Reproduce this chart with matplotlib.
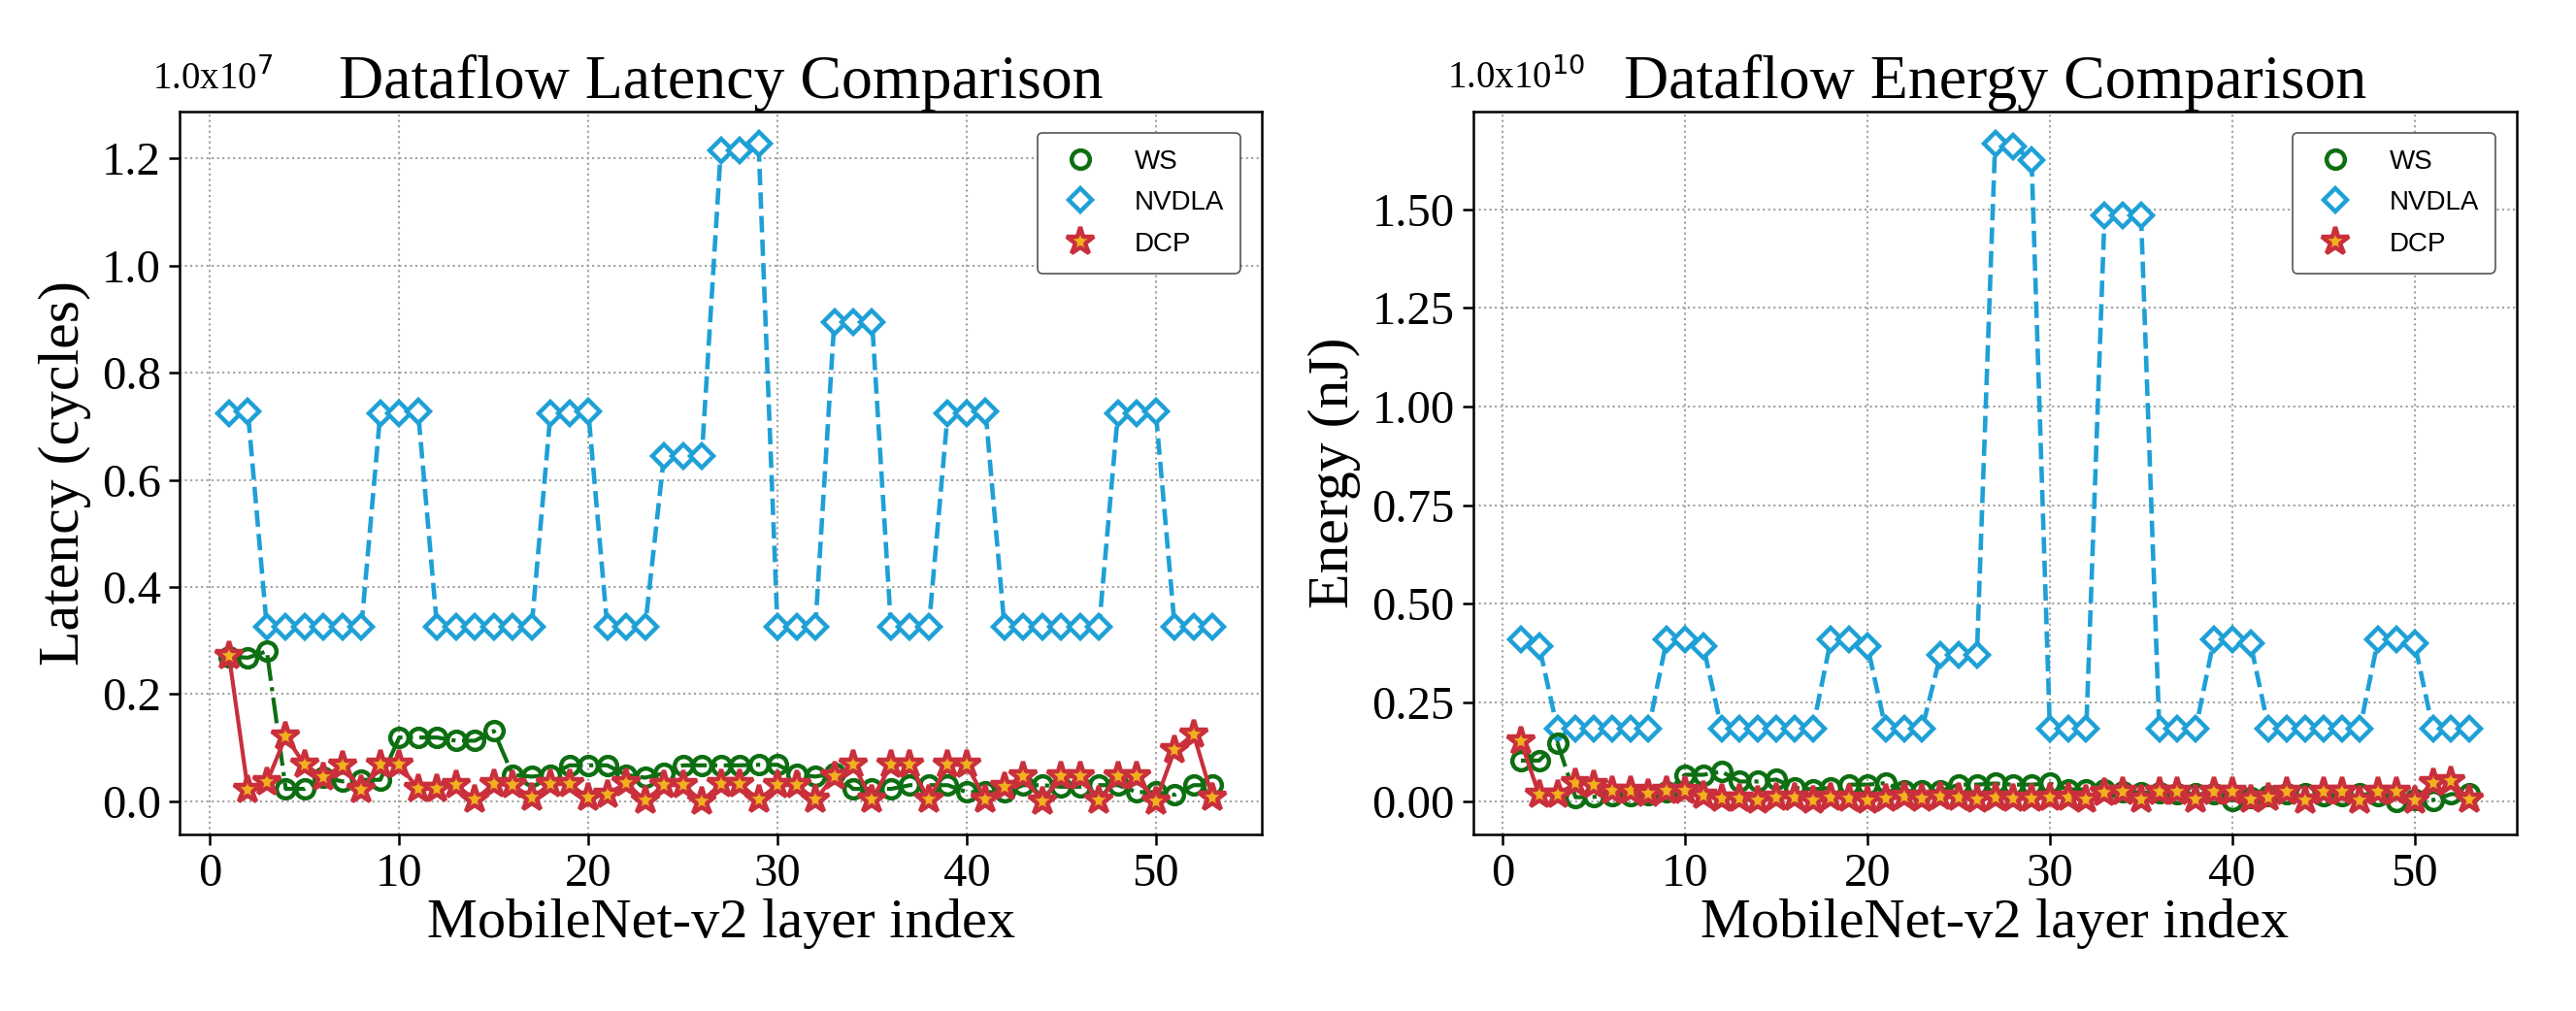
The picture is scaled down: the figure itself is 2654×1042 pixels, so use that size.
import matplotlib
matplotlib.use("Agg")
import matplotlib.pyplot as plt
from matplotlib.lines import Line2D
from matplotlib.ticker import FormatStrFormatter, MultipleLocator
import numpy as np

layers = list(range(1, 54))

# Latency (x1e7 cycles)
lat_ws = [0.270, 0.268, 0.280, 0.023, 0.023, 0.045, 0.037, 0.040, 0.040, 0.119,
          0.119, 0.119, 0.113, 0.113, 0.131, 0.049, 0.046, 0.049, 0.067, 0.067,
          0.067, 0.049, 0.044, 0.052, 0.067, 0.067, 0.067, 0.067, 0.068, 0.068,
          0.050, 0.046, 0.052, 0.023, 0.023, 0.023, 0.030, 0.030, 0.030, 0.017,
          0.017, 0.017, 0.030, 0.030, 0.027, 0.027, 0.030, 0.030, 0.017, 0.017,
          0.012, 0.030, 0.030]
lat_nvdla = [0.725, 0.727, 0.325, 0.325, 0.325, 0.325, 0.325, 0.325, 0.725, 0.725,
             0.727, 0.325, 0.325, 0.325, 0.325, 0.325, 0.325, 0.725, 0.725, 0.727,
             0.325, 0.325, 0.325, 0.645, 0.645, 0.645, 1.215, 1.215, 1.227, 0.325,
             0.325, 0.325, 0.895, 0.895, 0.895, 0.325, 0.325, 0.325, 0.725, 0.725,
             0.727, 0.325, 0.325, 0.325, 0.325, 0.325, 0.325, 0.725, 0.725, 0.727,
             0.325, 0.325, 0.325]
lat_dcp = [0.272, 0.021, 0.035, 0.121, 0.068, 0.045, 0.067, 0.021, 0.068, 0.068,
           0.023, 0.023, 0.030, 0.003, 0.032, 0.030, 0.006, 0.032, 0.032, 0.006,
           0.013, 0.034, 0.001, 0.030, 0.030, 0.000, 0.032, 0.032, 0.003, 0.030,
           0.030, 0.003, 0.046, 0.068, 0.003, 0.068, 0.068, 0.003, 0.068, 0.068,
           0.003, 0.027, 0.046, 0.000, 0.046, 0.046, 0.001, 0.046, 0.046, 0.000,
           0.096, 0.125, 0.006]

# Energy (x1e10 nJ)
en_ws = [0.103, 0.103, 0.148, 0.010, 0.011, 0.015, 0.015, 0.016, 0.025, 0.067,
         0.067, 0.075, 0.050, 0.050, 0.055, 0.034, 0.030, 0.034, 0.042, 0.042,
         0.046, 0.026, 0.026, 0.026, 0.042, 0.042, 0.045, 0.042, 0.042, 0.045,
         0.030, 0.030, 0.028, 0.025, 0.022, 0.022, 0.020, 0.018, 0.018, 0.002,
         0.010, 0.015, 0.018, 0.018, 0.015, 0.015, 0.018, 0.015, 0.000, 0.005,
         0.003, 0.018, 0.018]
en_nvdla = [0.410, 0.393, 0.184, 0.184, 0.184, 0.184, 0.184, 0.184, 0.410, 0.410,
            0.393, 0.184, 0.184, 0.184, 0.184, 0.184, 0.184, 0.410, 0.410, 0.393,
            0.184, 0.184, 0.184, 0.370, 0.370, 0.370, 1.665, 1.660, 1.625, 0.184,
            0.184, 0.184, 1.485, 1.485, 1.485, 0.184, 0.184, 0.184, 0.410, 0.410,
            0.400, 0.184, 0.184, 0.184, 0.184, 0.184, 0.184, 0.410, 0.410, 0.400,
            0.184, 0.184, 0.184]
en_dcp = [0.152, 0.016, 0.016, 0.046, 0.042, 0.026, 0.026, 0.018, 0.026, 0.026,
          0.014, 0.006, 0.008, 0.002, 0.010, 0.010, 0.003, 0.010, 0.008, 0.003,
          0.006, 0.011, 0.006, 0.011, 0.010, 0.004, 0.010, 0.006, 0.006, 0.010,
          0.010, 0.004, 0.022, 0.024, 0.004, 0.024, 0.024, 0.004, 0.024, 0.024,
          0.004, 0.010, 0.024, 0.002, 0.024, 0.024, 0.002, 0.024, 0.024, 0.002,
          0.046, 0.050, 0.004]

series_names = ["WS", "NVDLA", "DCP"]

C_WS = "#0d6e12"
C_NV = "#1ea0d6"
C_DCP = "#c9303c"
C_DCP_FACE = "#f2b01e"

SERIF = ["Liberation Serif", "DejaVu Serif"]
SANS = ["Liberation Sans", "DejaVu Sans"]

fig = plt.figure(figsize=(26.54, 10.42), dpi=100)
ax1 = fig.add_axes([0.0698, 0.175, 0.420, 0.715])
ax2 = fig.add_axes([0.572, 0.175, 0.405, 0.715])


def draw(ax, ws, nv, dcp, title, ylabel, offset, yfmt, ystep):
    ax.plot(layers, nv, linestyle="--", color=C_NV, lw=3.3, marker="D", ms=12.5,
            mfc="white", mec=C_NV, mew=3.2, zorder=3)
    ax.plot(layers, ws, linestyle="-.", color=C_WS, lw=3.0, marker="o", ms=13.5,
            mfc="none", mec=C_WS, mew=3.2, zorder=4)
    ax.plot(layers, dcp, linestyle="-", color=C_DCP, lw=3.0, marker="*", ms=21,
            mfc=C_DCP_FACE, mec=C_DCP, mew=3.2, zorder=5)
    ax.grid(True, linestyle=":", color="#a0a0a0", lw=1.5)
    ax.set_axisbelow(True)
    ax.xaxis.set_major_locator(MultipleLocator(10))
    ax.yaxis.set_major_locator(MultipleLocator(ystep))
    ax.yaxis.set_major_formatter(FormatStrFormatter(yfmt))
    for lab in ax.get_xticklabels() + ax.get_yticklabels():
        lab.set_family(SERIF)
        lab.set_fontsize(35)
    ax.tick_params(axis="both", length=8, width=1.8, pad=6)
    for s in ax.spines.values():
        s.set_linewidth(1.8)
    ax.set_title(title, family=SERIF, fontsize=46, pad=10)
    ax.set_ylabel(ylabel, family=SERIF, fontsize=43, labelpad=8)
    ax.set_xlabel("MobileNet-v2 layer index", family=SERIF, fontsize=42, labelpad=2)
    ax.text(-0.025, 1.02, offset, transform=ax.transAxes, family=SERIF,
            fontsize=28, ha="left", va="bottom")
    handles = [
        Line2D([], [], linestyle="none", marker="o", ms=13.5, mfc="none", mec=C_WS, mew=3.2),
        Line2D([], [], linestyle="none", marker="D", ms=12.5, mfc="white", mec=C_NV, mew=3.2),
        Line2D([], [], linestyle="none", marker="*", ms=21, mfc=C_DCP_FACE, mec=C_DCP, mew=3.2),
    ]
    leg = ax.legend(handles, series_names, loc="upper right", prop={"family": SANS, "size": 20},
                    frameon=True, fancybox=True, borderpad=0.6, labelspacing=0.6,
                    handletextpad=1.0, borderaxespad=0.8, framealpha=1.0)
    leg.get_frame().set_edgecolor("#555555")
    leg.get_frame().set_linewidth(1.2)


draw(ax1, lat_ws, lat_nvdla, lat_dcp, "Dataflow Latency Comparison",
     "Latency (cycles)", r"1.0x10$^{7}$", "%.1f", 0.2)
draw(ax2, en_ws, en_nvdla, en_dcp, "Dataflow Energy Comparison",
     "Energy (nJ)", r"1.0x10$^{10}$", "%.2f", 0.25)

fig.savefig("out.png", dpi=100)
